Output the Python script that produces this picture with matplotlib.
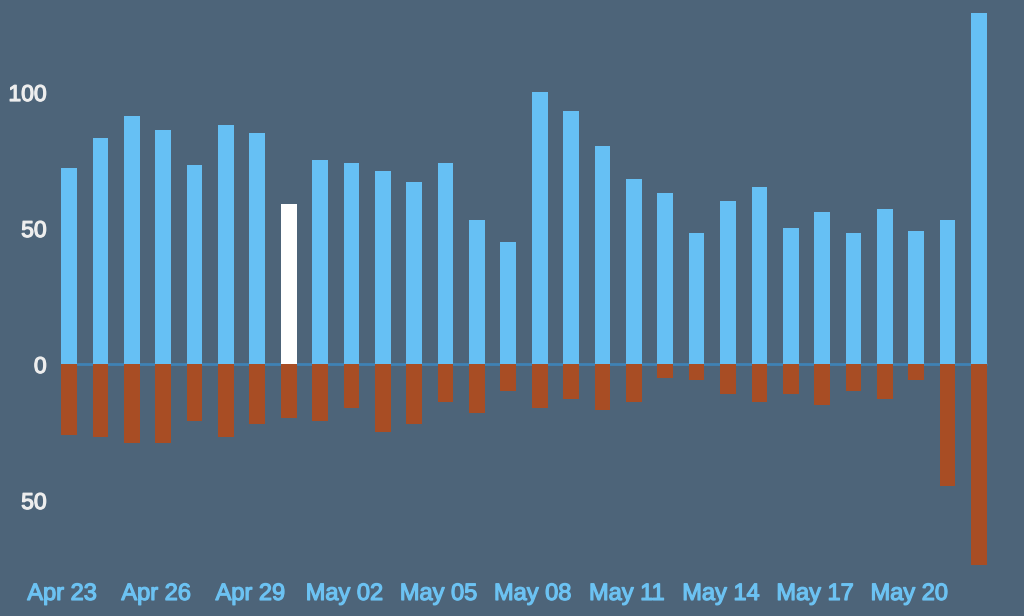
import numpy as np
import matplotlib.pyplot as plt
import matplotlib.patheffects as pe
from matplotlib.ticker import FuncFormatter

days = ['Apr 23', 'Apr 24', 'Apr 25', 'Apr 26', 'Apr 27', 'Apr 28', 'Apr 29', 'Apr 30',
        'May 01', 'May 02', 'May 03', 'May 04', 'May 05', 'May 06', 'May 07', 'May 08',
        'May 09', 'May 10', 'May 11', 'May 12', 'May 13', 'May 14', 'May 15', 'May 16',
        'May 17', 'May 18', 'May 19', 'May 20', 'May 21', 'May 22']
ups = [72, 83, 91, 86, 73, 88, 85, 59, 75, 74, 71, 67, 74, 53, 45, 100,
       93, 80, 68, 63, 48, 60, 65, 50, 56, 48, 57, 49, 53, 129]
downs = [26, 27, 29, 29, 21, 27, 22, 20, 21, 16, 25, 22, 14, 18, 10, 16,
         13, 17, 14, 5, 6, 11, 14, 11, 15, 10, 13, 6, 45, 74]
highlight = 'Apr 30'

bg = '#4d6479'
blue = '#66c0f4'
rust = '#a84d24'

fig = plt.figure(figsize=(10.24, 6.16), dpi=100, facecolor=bg)
ax = fig.add_axes([55 / 1024, 40 / 616, 945 / 1024, 576 / 616], facecolor=bg)

x = np.arange(len(days))
up_colors = ['white' if d == highlight else blue for d in days]
ax.bar(x, ups, width=0.5, color=up_colors, zorder=2)
ax.bar(x, [-v for v in downs], width=0.5, color=rust, zorder=2)
# zero line only under the bars
ax.hlines(0, x[0] - 0.25, x[-1] + 0.25, color='#3f82b5', lw=2, zorder=1)

ax.set_xlim((55 - 69) / 31.38, (1000 - 69) / 31.38)
ax.set_ylim(-(576 - 364) / 2.72, 364 / 2.72)

ax.set_yticks([-50, 0, 50, 100])
ax.yaxis.set_major_formatter(FuncFormatter(lambda v, p: f'{abs(int(v))}'))
ticks = x[::3]
ax.set_xticks(ticks - 0.22)
ax.set_xticklabels([days[i] for i in ticks])

ax.tick_params(axis='y', length=0, pad=6, labelsize=16.5, labelcolor='#eeeeee')
ax.tick_params(axis='x', length=0, pad=5, labelsize=17, labelcolor='#6cc2f2')
for lbl in ax.get_xticklabels() + ax.get_yticklabels():
    lbl.set_fontfamily(['Liberation Sans', 'DejaVu Sans'])
    lbl.set_path_effects([pe.withStroke(linewidth=0.9, foreground=lbl.get_color())])

for s in ax.spines.values():
    s.set_visible(False)

fig.savefig('out.png', dpi=100, facecolor=bg)
